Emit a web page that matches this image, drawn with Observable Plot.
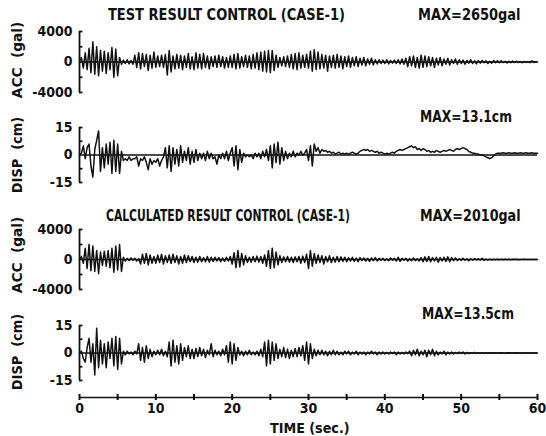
<!DOCTYPE html>
<html><head><meta charset="utf-8">
<script src="https://cdn.jsdelivr.net/npm/d3@7"></script>
<script src="https://cdn.jsdelivr.net/npm/@observablehq/plot@0.6"></script>
<style>
html,body{margin:0;padding:0;background:#fff;}
#chart{position:relative;width:546px;height:436px;overflow:hidden;background:#fff;}
#chart svg{position:absolute;left:0;}
.lbl{position:absolute;white-space:pre;font-family:"Liberation Sans Narrow","DejaVu Sans Condensed","Liberation Sans",sans-serif;font-weight:bold;color:#111;line-height:1;}
</style></head><body><div id="chart"></div>
<script>
// sampling interval of the traces (seconds)
const DT = 0.25;
const timeTicks = [0, 10, 20, 30, 40, 50, 60];
const timeMinorTicks = [0, 5, 10, 15, 20, 25, 30, 35, 40, 45, 50, 55, 60];
const accTickLabels = [-4000, 0, 4000];
const accBracket = [-4000, -2000, 2000, 4000];
const dispTickLabels = [-15, 0, 15];
const dispBracket = [-15, -7.5, 7.5, 15];

const titles = ["TEST RESULT CONTROL (CASE-1)", "CALCULATED RESULT CONTROL (CASE-1)"];
const maxLabels = ["MAX=2650gal", "MAX=13.1cm", "MAX=2010gal", "MAX=13.5cm"];
const yTitles = ["ACC  (gal)", "DISP  (cm)", "ACC  (gal)", "DISP  (cm)"];
const xTitle = "TIME (sec.)";

// TEST RESULT: acceleration (gal), one value every DT seconds, 0..60 s
const testAcc = [
  0, 600, -800, 1200, -1000, 1800, -1400, 2650, -1600, 2000, -1800, 1500, -1200, 1400, -1500, 1200, -1000, 1900, -2000, 1700,
  -1800, 600, -300, 250, -200, 300, -250, 200, -300, 900, -700, 1200, -900, 1100, -600, 1000, -1100, 900, -800, 1300,
  -700, 800, -600, 900, -700, 1000, -1700, 1500, -1300, 800, -900, 1000, -800, 900, -1000, 800, -700, 1100, -900, 700,
  -1000, 1200, -800, 1000, -900, 1100, -700, 800, -900, 700, -600, 800, -700, 900, -600, 700, -800, 600, -700, 800,
  -700, 1000, -900, 1100, -800, 700, -600, 900, -700, 800, -900, 1000, -800, 1200, -1000, 1300, -1200, 1400, -1300, 1500,
  -1400, 1500, -1100, 900, -700, 600, -500, 700, -600, 800, -700, 1000, -900, 1100, -1000, 1200, -800, 900, -700, 1000,
  -800, 1400, -1200, 1600, -1000, 1300, -900, 1000, -800, 900, -1200, 800, -700, 900, -800, 1000, -700, 800, -900, 700,
  -600, 800, -700, 600, -500, 700, -600, 500, -400, 600, -500, 400, -300, 500, -400, 300, -250, 300, -200, 250,
  -200, 300, -250, 200, -150, 250, -200, 300, -250, 400, -300, 500, -600, 700, -500, 800, -700, 600, -800, 900,
  -700, 800, -600, 700, -500, 600, -700, 500, -400, 600, -500, 400, -300, 500, -400, 300, -200, 400, -300, 300,
  -200, 250, -300, 200, -150, 300, -200, 150, -250, 200, -150, 200, -100, 150, -200, 100, -150, 200, -100, 150,
  -100, 150, -80, 100, -120, 80, -100, 120, -60, 100, -80, 60, -100, 80, -50, 60, -80, 150, -60, 40, 0
];
// TEST RESULT: displacement (cm)
const testDisp = [
  0, 1, 5, -2, 4, 6, -6, -12, 3, 8, 13.1, -9, 4, -7, 6, -5, 7, -10, 8, -9,
  6, -10, 2, -3, -2, -3, -1, -3, -2, -2, -1, -6, -2, -3, -1, -4, -8, -2, -5, -3,
  -4, -2, -6, -3, -1, 4, -7, 5, -9, 4, -5, 3, -6, 5, -4, 2, -3, 4, -5, 2,
  -4, 3, -3, 1, -2, 1, -3, 2, -2, 1, -2, -1, -5, 0, -2, 1, -2, 2, -3, 1,
  4, -6, 5, -8, 3, -4, 1, -1, 0, -1, 0, -2, 1, -1, 1, -2, 2, -1, 3, -3,
  5, -7, 6, -4, 7, -5, 4, -3, 2, -2, 1, -1, 2, -1, 1, 0, 2, 0, 1, 3,
  -3, 5, -6, 6, 2, 4, 1, 3, 2, 2.5, 1.5, 2, 1, 1.5, 0.5, 1, 1.5, 0.5, 1, 0.5,
  1, 0.5, 1, 1.5, 1, 0.5, 1, 2, 2.5, 3, 2.5, 3, 2, 2.5, 2, 1.5, 2, 1, 1.5, 1,
  0.5, 1, 0.5, 1, 1.5, 1, 2, 2.5, 3, 2.5, 3, 3.5, 4, 4.5, 5, 4, 4.5, 3, 3.5, 2.5,
  3.5, 3, 2, 2.5, 1.5, 2, 1.5, 2.5, 2, 1.5, 2, 2.5, 2, 2.5, 3, 2.5, 2, 3, 3.5, 3,
  3.5, 4, 3.5, 3, 2, 1.5, 1, 1, 0.5, 0.5, 0, 0, -0.5, -1, -1.5, -2, -1.5, -0.5, 0.5, 1,
  1, 1, 1.2, 1, 1, 1.2, 1, 1, 1.2, 1, 1, 1.2, 1, 1, 1.2, 1, 1, 1.2, 1, 1, 1
];
// CALCULATED RESULT: acceleration (gal)
const calcAcc = [
  0, 400, -500, 1500, -1200, 2010, -1500, 1800, -1600, 1200, -1900, 1000, -800, 1100, -900, 1200, -1100, 1500, -1700, 1800,
  -1400, 2000, -1600, 300, -200, 150, -150, 200, -100, 150, -200, 100, -600, 700, -500, 800, -700, 600, -500, 400,
  -500, 600, -400, 700, -600, 500, -400, 600, -500, 700, -400, 500, -600, 400, -500, 600, -400, 500, -300, 400,
  -400, 300, -350, 400, -300, 250, -300, 400, -350, 300, -250, 300, -200, 250, -300, 200, -250, 300, -200, 400,
  -600, 900, -1100, 1200, -1000, 800, -700, 500, -400, 300, -350, 400, -300, 450, -350, 400, -500, 600, -900, 1200,
  -1200, 1500, -1100, 1000, -700, 500, -400, 350, -300, 400, -350, 300, -400, 350, -300, 400, -500, 450, -400, 700,
  -1200, 1200, -900, 800, -500, 600, -400, 500, -600, 400, -300, 500, -400, 300, -350, 400, -300, 350, -250, 300,
  -300, 250, -200, 300, -250, 200, -300, 250, -150, 200, -200, 150, -250, 200, -150, 250, -200, 150, -100, 150,
  -150, 100, -150, 200, -100, 150, -200, 300, -250, 150, -100, 150, -200, 100, -150, 200, -150, 100, -200, 250,
  -300, 350, -250, 400, -300, 250, -200, 300, -350, 250, -200, 300, -250, 350, -300, 250, -150, 200, -150, 100,
  -100, 150, -100, 80, -150, 100, -80, 120, -60, 100, -80, 150, -100, 60, -80, 50, -60, 40, -50, 30,
  -30, 40, -20, 30, -20, 20, -30, 20, -10, 20, -20, 10, -10, 20, -10, 10, -10, 10, 0, 0, 0
];
// CALCULATED RESULT: displacement (cm)
const calcDisp = [
  0, 1, -3, -5, 3, 8, -5, 5, -12, 13.5, -8, 7, -6, 5, -8, 6, -3, 8, -7, 9,
  -9, 8, -6, 1, -1, 1, -0.5, 0.5, -1, 1, -0.5, 5, -4, 3, -5, 4, -3, 2, -2, 1,
  -1, 1.5, -1, 2, -1.5, 1, -2, 6, -7, 7, -5, 4, -6, 5, -4, 3, -2, 4, -3, 2,
  -3, 2.5, -2, 3, -1.5, 2, -2.5, 1.5, -1, 5, -2, 1.5, -1, 1, -1.5, 2, -1, 4, -5, 6,
  -6, 5, -4, 3, -1, 1, -1.5, 1, -1, 1.5, -1, 0.5, -1, 1, -1.5, 2, -2, 6, -7, 7,
  -6, 6, -4, 5, -3, 2, -2, 3, -2.5, 2, -3, 1.5, -2, 2.5, -2, 3, -1.5, 4, -4, 6,
  -6, 5, -3, 2, -1.5, 1.5, -1, 1.5, -1, 1, -1.5, 1, -1, 1.5, -1, 1, -1, 0.5, -1, 1,
  -0.5, 1, -1, 0.5, -0.5, 1, -1, 0.5, -0.5, 0.5, -1, 0.5, -0.5, 1, -0.5, 0.5, -1, 0.5, -0.5, 0.5,
  -0.5, 0.3, -0.5, 0.5, -0.3, 0.5, -1, 0.5, -0.5, 0.3, -0.5, 0.5, -0.3, 1, -1.5, 1.5, -1, 2, -1.5, 1,
  -1, 1.5, -2, 1.5, -1, 2, -1.5, 1, -1, 0.5, -0.5, 1, -1, 0.5, -0.5, 0.5, -0.5, 0.3, -0.3, 0.5,
  -0.3, 0.5, -0.5, 0.3, -0.3, 0.2, -0.2, 0.3, -0.2, 0.2, -0.2, 0.1, -0.1, 0.2, -0.1, 0.1, -0.1, 0.1, 0, 0,
  0, 0.1, 0, -0.1, 0, 0.1, 0, 0, 0, 0.1, 0, -0.1, 0, 0, 0, 0, 0, 0, 0, 0, 0
];

const INK = "#111";
const FONT = '"Liberation Sans Narrow","DejaVu Sans Condensed","Liberation Sans",sans-serif';
const chart = document.getElementById("chart");
const ML = 79, MR = 9, W = 546;

function panel(values, yDomain, tickLabels, bracket, top, height, mt, mb) {
  const svg = Plot.plot({
    width: W, height, marginLeft: ML, marginRight: MR, marginTop: mt, marginBottom: mb,
    style: {background: "transparent", fontFamily: FONT, fontSize: "14px", fontWeight: "bold", color: INK, overflow: "visible"},
    x: {domain: [0, 60], axis: null},
    y: {domain: yDomain, ticks: tickLabels, tickSize: 0, tickPadding: 7, label: null, tickFormat: d => String(d)},
    marks: [
      Plot.ruleY([0], {stroke: INK, strokeWidth: 1.4}),
      Plot.line(values, {x: (d, i) => i * DT, y: d => d, stroke: INK, strokeWidth: 1.5}),
      Plot.ruleX([0], {y1: bracket[0], y2: bracket[bracket.length - 1], stroke: INK, strokeWidth: 1.8}),
      Plot.ruleY(bracket, {x1: 0, x2: 0.45, stroke: INK, strokeWidth: 1.8})
    ]
  });
  svg.style.top = top + "px";
  chart.appendChild(svg);
}

panel(testAcc, [-4000, 4000], accTickLabels, accBracket, 0, 100, 31, 8);
panel(testDisp, [-15, 15], dispTickLabels, dispBracket, 100, 100, 27, 18);
panel(calcAcc, [-4000, 4000], accTickLabels, accBracket, 200, 100, 29, 11);
panel(calcDisp, [-15, 15], dispTickLabels, dispBracket, 300, 88, 25, 8);

// time axis
const xa = Plot.plot({
  width: W, height: 44, marginLeft: ML, marginRight: MR, marginTop: 6, marginBottom: 32,
  style: {background: "transparent", fontFamily: FONT, fontSize: "14px", fontWeight: "bold", color: INK, overflow: "visible"},
  x: {domain: [0, 60], ticks: timeTicks, tickSize: 0, tickPadding: 3, label: null, tickFormat: d => String(d)},
  y: {domain: [0, 1], axis: null},
  marks: [
    Plot.ruleY([0.5], {stroke: INK, strokeWidth: 1.6}),
    Plot.tickX(timeMinorTicks, {x: d => d, stroke: INK, strokeWidth: 2})
  ]
});
xa.style.top = "388px";
chart.appendChild(xa);

function label(text, left, right, cy, size) {
  const d = document.createElement("div");
  d.className = "lbl";
  d.style.fontSize = size + "px";
  d.textContent = text;
  chart.appendChild(d);
  const w = d.offsetWidth, h = d.offsetHeight;
  d.style.left = left + "px";
  d.style.top = (cy - h / 2) + "px";
  d.style.transformOrigin = "0 50%";
  d.style.transform = `scaleX(${(right - left) / w})`;
}
function vlabel(text, cx, cy, len, size) {
  const d = document.createElement("div");
  d.className = "lbl";
  d.style.fontSize = size + "px";
  d.textContent = text;
  chart.appendChild(d);
  const w = d.offsetWidth, h = d.offsetHeight;
  d.style.left = (cx - w / 2) + "px";
  d.style.top = (cy - h / 2) + "px";
  d.style.transformOrigin = "50% 50%";
  d.style.transform = `rotate(-90deg) scaleX(${len / w})`;
}

label(titles[0], 108, 345, 15, 15);
label(maxLabels[0], 418, 521, 15, 15);
label(maxLabels[1], 420, 512, 117, 15);
label(titles[1], 106, 350, 216, 15);
label(maxLabels[2], 420, 521, 216, 15);
label(maxLabels[3], 422, 514, 314, 15);
label(xTitle, 270, 350, 428, 14);

vlabel(yTitles[0], 17, 60, 76, 14);
vlabel(yTitles[1], 17, 155, 76, 14);
vlabel(yTitles[2], 17, 255, 76, 14);
vlabel(yTitles[3], 17, 352, 76, 14);
</script>
</body></html>
